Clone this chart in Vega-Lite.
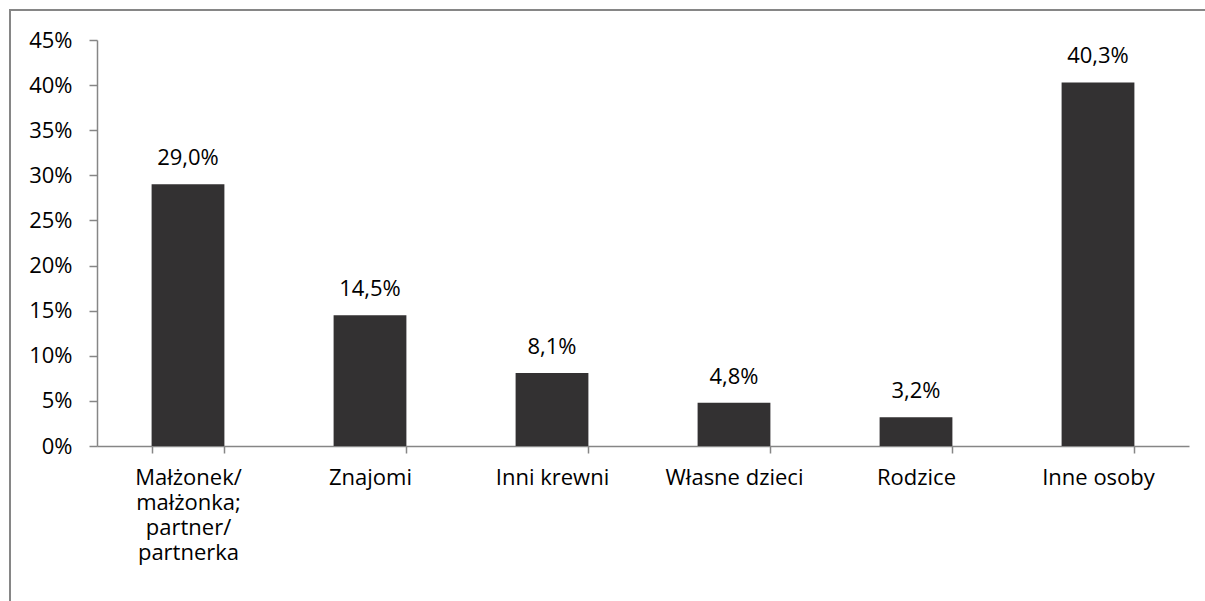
{
  "$schema": "https://vega.github.io/schema/vega-lite/v6.json",
  "width": 1200,
  "height": 595,
  "autosize": {"type": "none"},
  "padding": {"left": 10, "top": 10, "right": 0, "bottom": 0},
  "background": "white",
  "data": {
    "values": [
      {"kat": "Małżonek/|małżonka;|partner/|partnerka", "v": 0.290},
      {"kat": "Znajomi", "v": 0.145},
      {"kat": "Inni krewni", "v": 0.081},
      {"kat": "Własne dzieci", "v": 0.048},
      {"kat": "Rodzice", "v": 0.032},
      {"kat": "Inne osoby", "v": 0.403}
    ]
  },
  "encoding": {
    "x": {
      "field": "kat", "type": "nominal", "sort": null, "title": null,
      "scale": {"range": [87, 1179], "paddingInner": 0.6, "paddingOuter": 0.3},
      "axis": {
        "offset": -159, "labelAngle": 0, "tickBand": "extent",
        "labelExpr": "split(datum.label, '|')",
        "labelLineHeight": 25, "labelBaseline": "top", "labelPadding": 14,
        "tickSize": 7, "domainColor": "#868686", "tickColor": "#868686",
        "domainWidth": 1.5, "tickWidth": 1.5,
        "labelFont": "Open Sans", "labelFontSize": 22, "labelColor": "#000000"
      }
    },
    "y": {
      "field": "v", "type": "quantitative", "title": null,
      "scale": {"domain": [0, 0.45], "range": [436, 30], "nice": false},
      "axis": {
        "offset": -87, "values": [0, 0.05, 0.1, 0.15, 0.2, 0.25, 0.3, 0.35, 0.4, 0.45],
        "format": ".0%", "grid": false, "tickSize": 8, "labelPadding": 17,
        "domainColor": "#868686", "tickColor": "#868686",
        "domainWidth": 1.5, "tickWidth": 1.5,
        "labelFont": "Open Sans", "labelFontSize": 22, "labelColor": "#000000"
      }
    }
  },
  "layer": [
    {"mark": {"type": "bar", "color": "#333132"}},
    {
      "mark": {"type": "text", "baseline": "alphabetic", "dy": -19, "font": "Open Sans", "fontSize": 22, "color": "#000000"},
      "encoding": {"text": {"field": "v", "type": "quantitative", "format": ".1%"}}
    }
  ],
  "config": {
    "view": {"stroke": "#868686", "strokeWidth": 2},
    "locale": {"number": {"decimal": ",", "thousands": " ", "grouping": [3], "currency": ["", " zł"]}}
  }
}
